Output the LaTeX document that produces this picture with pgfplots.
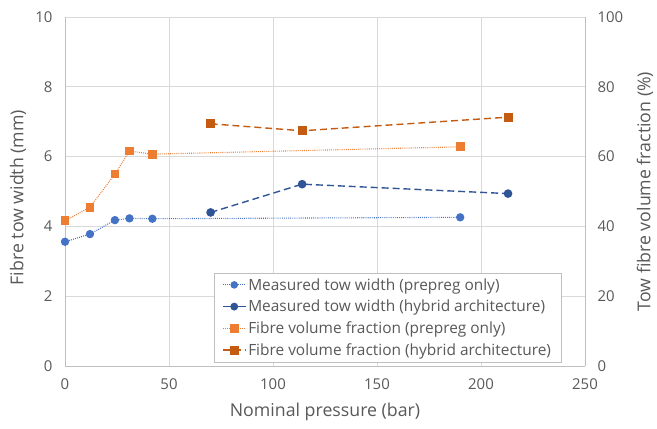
\documentclass[border=0pt]{standalone}
\usepackage{pgfplots}
\pgfplotsset{compat=1.18}
\usepackage{fontspec}
\setmainfont{Open Sans}
\definecolor{bluep}{HTML}{4472C4}
\definecolor{blueh}{HTML}{2F5597}
\definecolor{orangep}{HTML}{ED7D31}
\definecolor{orangeh}{HTML}{C55A11}
\definecolor{gridc}{HTML}{D9D9D9}
\definecolor{axc}{HTML}{BFBFBF}
\definecolor{txt}{HTML}{595959}
\tikzset{lab/.style={font=\fontsize{17.8}{20}\selectfont, text=txt}}
\begin{document}
\begin{tikzpicture}
\pgfplotsset{
  common/.style={
    scale only axis, width=520bp, height=349bp,
    at={(0,0)}, anchor=south west,
    xmin=0, xmax=250, xtick={0,50,...,250},
    tick style={draw=none},
    tick label style={font=\fontsize{15}{17}\selectfont, text=txt},
    /pgf/number format/assume math mode=true,
  },
  dots/.style={line width=1.1pt, dash pattern=on 0.9pt off 1.2pt},
  dashes/.style={line width=1.4pt, dash pattern=on 7pt off 4pt},
}
\begin{axis}[common,
  axis y line*=left, axis x line*=bottom,
  axis line style={draw=axc},
  ymin=0, ymax=10, ytick={0,2,...,10},
  xmajorgrids, ymajorgrids, grid style={gridc, line width=0.8pt},
  xlabel={Nominal pressure (bar)},
  ylabel={Fibre tow width (mm)},
  every axis x label/.style={lab, at={(axis description cs:0.5,0)}, yshift=-46bp, anchor=center},
  every axis y label/.style={lab, at={(axis description cs:0,0.5)}, xshift=-47bp, yshift=-6bp, rotate=90, anchor=center},
  yticklabel style={xshift=-9bp},
  xticklabel style={yshift=-9bp},
]
\addplot[bluep, dots, mark=*, mark size=3.6bp, mark options={solid, fill=bluep, draw=bluep}]
 coordinates {(0,3.56) (12,3.78) (24,4.18) (31,4.23) (42,4.22) (190,4.26)};
\addplot[blueh, dashes, mark=*, mark size=3.6bp, mark options={solid, fill=blueh, draw=blueh}]
 coordinates {(70,4.40) (114,5.21) (213,4.94)};
\end{axis}
\begin{axis}[common,
  axis y line*=right, axis x line=none,
  axis line style={draw=axc},
  ymin=0, ymax=100, ytick={0,20,...,100},
  ylabel={Tow fibre volume fraction (\%)},
  every axis y label/.style={lab, at={(axis description cs:1,0.5)}, xshift=60bp, rotate=90, anchor=center},
  yticklabel style={xshift=9bp},
  legend style={at={(149bp,4bp)}, anchor=south west, draw=axc,
    font=\fontsize{15.5}{17.5}\selectfont, text=txt,
    row sep=4.5bp, inner xsep=8bp, inner ysep=3bp,
    /tikz/every even column/.append style={column sep=2bp}},
  legend image code/.code={\draw[mark repeat=2,mark phase=2] plot coordinates {(0cm,0cm) (0.4cm,0cm) (0.8cm,0cm)};},
  legend cell align=left,
]
\addlegendimage{bluep, dots, mark=*, mark size=3.2bp, mark options={solid, fill=bluep}}
\addlegendentry{Measured tow width (prepreg only)}
\addlegendimage{blueh, line width=1.4pt, mark=*, mark size=3.2bp, mark options={solid, fill=blueh}}
\addlegendentry{Measured tow width (hybrid architecture)}
\addplot[orangep, dots, mark=square*, mark size=3.8bp, mark options={solid, fill=orangep, draw=orangep}]
 coordinates {(0,41.6) (12,45.5) (24,55.0) (31,61.6) (42,60.7) (190,62.8)};
\addlegendentry{Fibre volume fraction (prepreg only)}
\addplot[orangeh, dashes, mark=square*, mark size=3.8bp, mark options={solid, fill=orangeh, draw=orangeh}]
 coordinates {(70,69.4) (114,67.4) (213,71.3)};
\addlegendentry{Fibre volume fraction (hybrid architecture)}
\end{axis}
\pgfresetboundingbox
\useasboundingbox (-65bp,-63bp) rectangle (592bp,366bp);
\end{tikzpicture}
\end{document}
